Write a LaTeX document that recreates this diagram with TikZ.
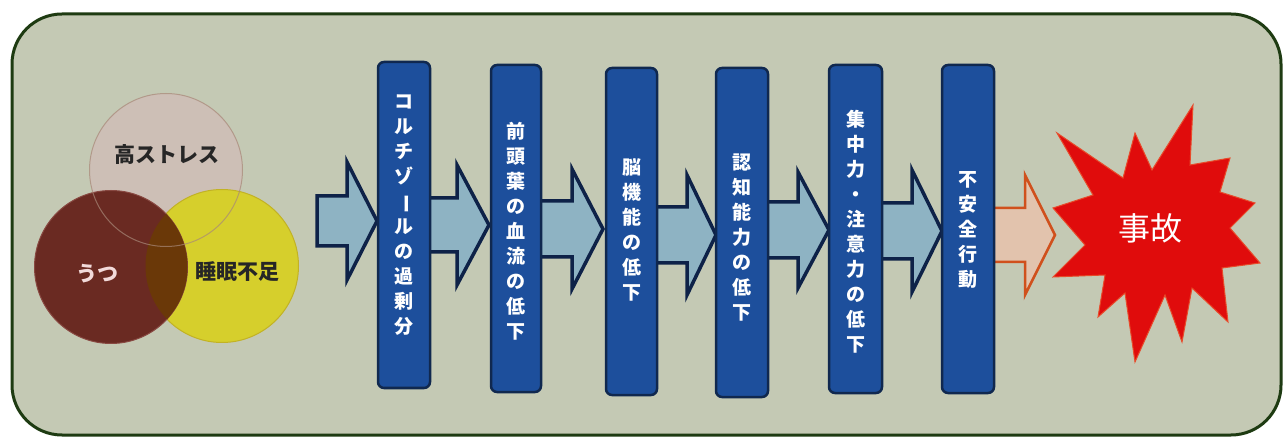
\documentclass[tikz,border=0pt]{standalone}
\usepackage{fontspec}
\usepackage{graphicx}
\newfontfamily\jp{Noto Sans CJK JP}
\definecolor{panelfill}{HTML}{C4C9B4}
\definecolor{panelline}{HTML}{1E3B12}
\definecolor{barblue}{HTML}{1D4F9C}
\definecolor{barline}{HTML}{10284F}
\definecolor{arrowfill}{HTML}{8EB3C3}
\definecolor{arrowline}{HTML}{0E2248}
\definecolor{stressfill}{HTML}{CDBFB6}
\definecolor{stressline}{HTML}{A88878}
\definecolor{depfill}{HTML}{6A2A22}
\definecolor{sleepfill}{HTML}{D6CF2C}
\definecolor{sleepline}{HTML}{C2B224}
\definecolor{overlapfill}{HTML}{6A3808}
\definecolor{accred}{HTML}{E00C0C}
\definecolor{accline}{HTML}{E84A2A}
\definecolor{peach}{HTML}{E2C3AD}
\definecolor{orangeline}{HTML}{D0501C}
\definecolor{deptext}{HTML}{F2DADA}
\newcommand{\blockarrow}[7]{%
  \draw[#1] (#2,#5-#6) -- (#3,#5-#6) -- (#3,#5-#7) -- (#4,#5) -- (#3,#5+#7) -- (#3,#5+#6) -- (#2,#5+#6) -- cycle;}
\newcommand{\vbar}{\rotatebox[origin=c]{-90}{ー}}
\begin{document}
\begin{tikzpicture}[x=1pt,y=-1pt,
  panel/.style={draw=panelline,fill=panelfill,line width=3pt,rounded corners=50pt},
  bar/.style={draw=barline,fill=barblue,line width=2.5pt,rounded corners=6pt,minimum width=52pt,inner sep=0pt},
  bartext/.style={text=white,align=center,font=\jp\bfseries\fontsize{19}{25}\selectfont,inner sep=0pt},
  flow/.style={draw=arrowline,fill=arrowfill,line width=3.5pt,line join=miter},
  lastflow/.style={draw=orangeline,fill=peach,line width=2.5pt,line join=miter},
  ring/.style={circle,minimum size=153pt,inner sep=0pt},
  ctext/.style={font=\jp\bfseries\fontsize{21}{24}\selectfont,inner sep=0pt}]
\useasboundingbox (0,0) rectangle (1283,438);
\draw[panel] (12,14) rectangle (1281,435);

% Venn circles
\node[ring,fill=stressfill] (stress) at (166,170) {};
\node[ring,fill=sleepfill,draw=sleepline,line width=1pt] (sleep) at (222,266) {};
\node[ring,fill=depfill,draw=depfill!80!pink,line width=1pt] (dep) at (111,267) {};
\begin{scope}
  \clip (dep.center) circle[radius=76.5pt];
  \fill[overlapfill] (sleep.center) circle[radius=76.5pt];
\end{scope}
\draw[stressline,line width=1pt,opacity=0.7] (stress.center) circle[radius=76.5pt];
\node[ctext,text=black!85] (tstress) at (167,155) {高ストレス};
\node[ctext,text=deptext] (tdep) at (97,274) {うつ};
\node[ctext,text=black!85] (tsleep) at (237,272) {睡眠不足};

% block arrows (tails hidden behind bars)
\blockarrow{flow}{317}{347}{377}{221}{25}{59}
\blockarrow{flow}{425}{457}{489}{225}{27}{60}
\blockarrow{flow}{536}{572}{603}{229}{28}{60}
\blockarrow{flow}{652}{687}{716}{235}{28}{60}
\blockarrow{flow}{763}{798}{829}{230}{28}{58}
\blockarrow{flow}{877}{912}{942}{231}{28}{61}
\blockarrow{lastflow}{990}{1025}{1055}{235}{27}{60}

% bars
\node[bar,minimum height=326pt] (b1) at (404,225) {};
\node[bar,minimum width=50pt,minimum height=327pt] (b2) at (516,228.5) {};
\node[bar,minimum width=51pt,minimum height=327pt] (b3) at (631.5,231.5) {};
\node[bar,minimum height=329pt] (b4) at (742,232.5) {};
\node[bar,minimum width=53pt,minimum height=328pt] (b5) at (855.5,229) {};
\node[bar,minimum height=328pt] (b6) at (968,229) {};

\node[bartext] (t1) at (b1.center |- 0,215) {コ\\ル\\チ\\ゾ\\\vbar\\ル\\の\\過\\剰\\分};
\node[bartext] (t2) at (b2.center |- 0,231) {前\\頭\\葉\\の\\血\\流\\の\\低\\下};
\node[bartext] (t3) at (b3.center |- 0,230) {脳\\機\\能\\の\\低\\下};
\node[bartext] (t4) at (b4.center |- 0,238) {認\\知\\能\\力\\の\\低\\下};
\node[bartext] (t5) at (b5.center |- 0,232) {集\\中\\力\\・\\注\\意\\力\\の\\低\\下};
\node[bartext] (t6) at (b6.center |- 0,230) {不\\安\\全\\行\\動};

% explosion
\draw[fill=accred,draw=accline,line width=1pt,line join=miter]
  (1193,105) -- (1190,165) -- (1230,158) -- (1220,192) -- (1255,203) -- (1230,228)
  -- (1260,263) -- (1222,268) -- (1228,322) -- (1192,288) -- (1182,342) -- (1165,295)
  -- (1135,362) -- (1125,293) -- (1098,317) -- (1105,275) -- (1053,277) -- (1085,245)
  -- (1053,208) -- (1093,195) -- (1057,133) -- (1123,178) -- (1135,133) -- (1152,170) -- cycle;
\node[text=white,font=\jp\fontsize{32}{34}\selectfont,inner sep=0pt] (acc) at (1150,228) {事故};
\end{tikzpicture}
\end{document}
